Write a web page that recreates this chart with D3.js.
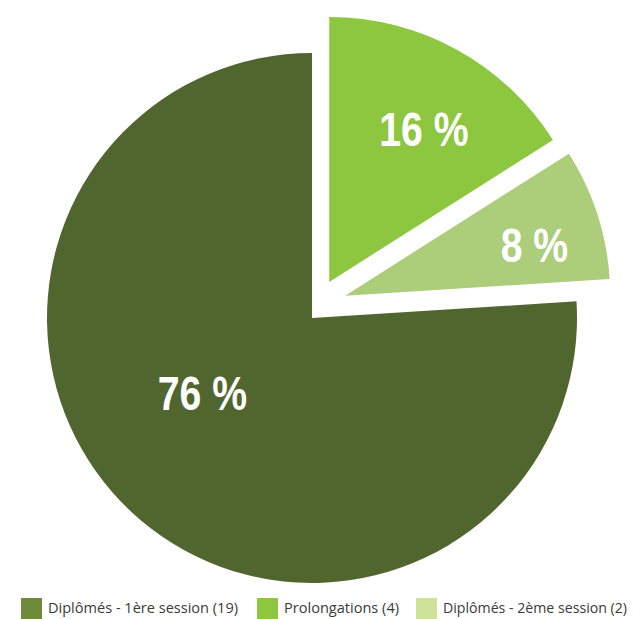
<!DOCTYPE html>
<html>
<head>
<meta charset="utf-8">
<script src="https://cdn.jsdelivr.net/npm/d3@7"></script>
<style>
  body { margin: 0; background: #fff; }
</style>
</head>
<body>
<div id="chart"></div>
<script>
// data
var categories = ["Diplômés - 1ère session", "Prolongations", "Diplômés - 2ème session"];
var counts = [19, 4, 2];
var pctLabels = ["76 %", "16 %", "8 %"];

// pie colours and (lighter) legend swatch colours
var sliceColors = ["#50662e", "#8dc63f", "#accd7a"];
var legendColors = ["#6f8b3a", "#8dc63f", "#cfe29a"];

var width = 633, height = 619;
var cx = 312, cy = 318, radius = 265;

// explode offsets, per slice (distance, angle in degrees clockwise from top)
var explode = [[0, 0], [40, 25.5], [40, 56]];
// label radius as fraction of radius, per slice
var labelR = [0.5, 0.68, 0.74];
var labelAngle = [235.8, 31.7, 74.8];

var svg = d3.select('#chart').append('svg')
    .attr('width', width)
    .attr('height', height);

var total = d3.sum(counts);
// first slice ends exactly at 12 o'clock
var start = 2 * Math.PI - 2 * Math.PI * counts[0] / total;

var pie = d3.pie().sort(null)
    .startAngle(start)
    .endAngle(start + 2 * Math.PI);

var arc = d3.arc().innerRadius(0).outerRadius(radius);

var arcs = pie(counts);

var g = svg.append('g')
    .attr('transform', 'translate(' + cx + ',' + cy + ')');

var slices = g.selectAll('g.slice')
    .data(arcs)
    .enter().append('g')
    .attr('class', 'slice')
    .attr('transform', function (d, i) {
        var a = explode[i][1] * Math.PI / 180;
        var r = explode[i][0];
        return 'translate(' + (r * Math.sin(a)) + ',' + (-r * Math.cos(a)) + ')';
    });

slices.append('path')
    .attr('d', arc)
    .style('fill', function (d, i) { return sliceColors[i]; });

// condensed look: squeeze the label horizontally
slices.append('g')
    .attr('transform', function (d, i) {
        var a = labelAngle[i] * Math.PI / 180;
        var r = labelR[i] * radius;
        return 'translate(' + (r * Math.sin(a)) + ',' + (-r * Math.cos(a)) + ') scale(0.8,1)';
    })
    .append('text')
    .attr('dy', '0.36em')
    .attr('text-anchor', 'middle')
    .style('font-family', '"Liberation Sans", Arial, sans-serif')
    .style('font-weight', 'bold')
    .style('font-size', '49px')
    .style('fill', '#fff')
    .text(function (d, i) { return pctLabels[i]; });

// legend
var legendX = [21, 257, 416];
var legendW = [190, 115, 184];
var legend = svg.selectAll('g.legend')
    .data(categories)
    .enter().append('g')
    .attr('class', 'legend')
    .attr('transform', function (d, i) { return 'translate(' + legendX[i] + ',598)'; });

legend.append('rect')
    .attr('width', 21)
    .attr('height', 21)
    .style('fill', function (d, i) { return legendColors[i]; });

legend.append('text')
    .attr('x', 27)
    .attr('y', 15)
    .attr('textLength', function (d, i) { return legendW[i]; })
    .attr('lengthAdjust', 'spacingAndGlyphs')
    .style('font-family', '"Open Sans", sans-serif')
    .style('font-size', '14.5px')
    .style('fill', '#3a3a3a')
    .text(function (d, i) { return d + ' (' + counts[i] + ')'; });
</script>
</body>
</html>
